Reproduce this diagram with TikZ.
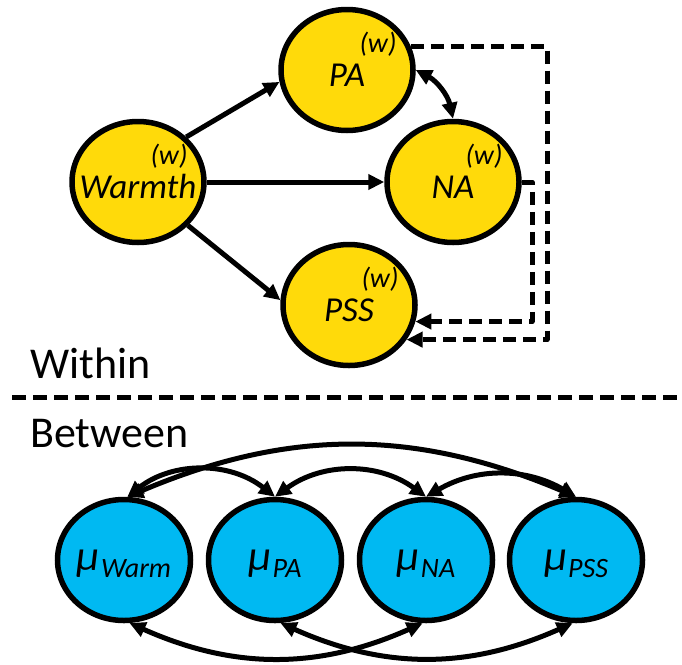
\documentclass[tikz,border=0pt]{standalone}
\usepackage{fontspec}
\setmainfont{Carlito}
\usetikzlibrary{shapes.geometric,arrows.meta}

\definecolor{warmyellow}{HTML}{FFDA0A}
\definecolor{meanblue}{HTML}{00B9F2}

% within-person variable: name centred, superscript (w) to the upper right
\newcommand\wlab[1]{\makebox[0pt]{#1}\rlap{\hspace{12.5pt}\raisebox{34pt}{\fontsize{28}{28}\selectfont(w)}}}
% between-person mean: mu with a lowered italic subscript
\newcommand\mlab[1]{\makebox[0pt]{\fontsize{43}{43}\selectfont\itshape μ\kern1pt\raisebox{-7pt}{\fontsize{28}{28}\selectfont #1}}}

\tikzset{
  tip/.tip={Triangle[length=16pt,width=15pt]},
  withinnode/.style={ellipse, draw=black, line width=5.5pt, fill=warmyellow,
    minimum width=132pt, minimum height=121pt, inner sep=0pt,
    text height=32pt, text depth=0pt,
    font=\fontsize{35}{35}\selectfont\itshape},
  meannode/.style={ellipse, draw=black, line width=5.5pt, fill=meanblue,
    minimum width=133pt, minimum height=121pt, inner sep=0pt,
    text height=20pt, text depth=0pt},
  effect/.style={line width=5pt, -tip},
  covar/.style={line width=5pt, tip-tip},
  lagged/.style={line width=5pt, dash pattern=on 13pt off 7pt, line join=round, -tip},
  heading/.style={anchor=base west, inner sep=0pt, font=\fontsize{44}{44}\selectfont},
}

\begin{document}
\begin{tikzpicture}[x=1pt, y=-1pt]
\useasboundingbox (0,0) rectangle (682,664);

% within-person network
\node[withinnode] (W)   at (138,182) {\wlab{Warmth}};
\node[withinnode] (PA)  at (347,70)  {\wlab{PA}};
\node[withinnode] (NA)  at (453,182) {\wlab{NA}};
\node[withinnode] (PSS) at (349,305) {\wlab{PSS}};

\draw[effect] (W.43)  -- (PA.190);
\draw[effect] (W.east) -- (NA.west);
\draw[effect] (W.-41) -- (PSS.176);
\draw[covar] (PA.east) to[bend left=25] (NA.north);

% lagged paths into PSS
\coordinate (lagA) at (547,200);
\coordinate (lagB) at (532,250);
\draw[lagged] (PA.20) -| (lagA) |- (PSS.-31);
\draw[lagged] (NA.east) -| (lagB) |- (PSS.-14);

% section headings and divider
\node[heading] (within)  at (30,378) {Within};
\node[heading] (between) at (30,447) {Between};
\coordinate (divL) at (12,397);
\coordinate (divR) at (682,397);
\draw[line width=5pt, dash pattern=on 14pt off 7pt] (divL) -- (divR);

% between-person means
\node[meannode] (mW)   at (124,560) {\mlab{Warm}};
\node[meannode] (mPA)  at (275,560) {\mlab{PA}};
\node[meannode] (mNA)  at (426,560) {\mlab{NA}};
\node[meannode] (mPSS) at (576,560) {\mlab{PSS}};

\draw[covar] (mW.87)    to[bend left=23] (mPSS.north);
\draw[covar] (mW.87)    to[bend left=38] (mPA.north);
\draw[covar] (mPA.north) to[bend left=36] (mNA.north);
\draw[covar] (mNA.north) to[bend left=30] (mPSS.north);
\draw[covar] (mW.-85)   to[bend right=24] (mNA.-93);
\draw[covar] (mPA.-85)  to[bend right=24] (mPSS.-93);
\end{tikzpicture}
\end{document}
